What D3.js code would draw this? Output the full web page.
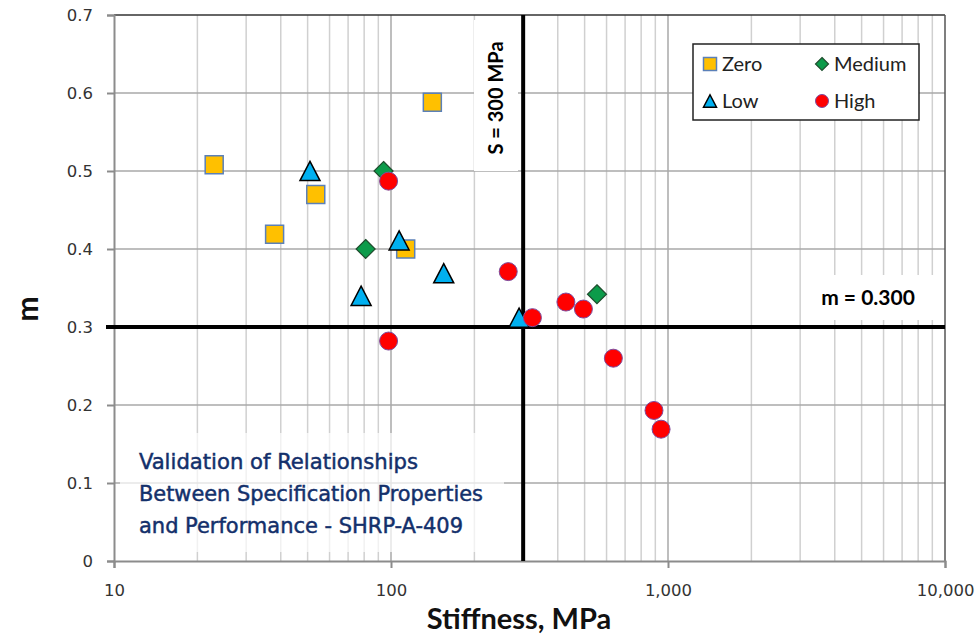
<!DOCTYPE html>
<html>
<head>
<meta charset="utf-8">
<script src="https://cdn.jsdelivr.net/npm/d3@7"></script>
<style>
  html, body { margin: 0; padding: 0; background: #fff; }
  svg { display: block; }
</style>
</head>
<body>
<svg id="chart" width="979" height="636"></svg>
<script>
// Creep stiffness vs. m-value, grouped by binder aging / distress level
const stiffnessTicks = [10, 100, 1000, 10000];
const stiffnessTickLabels = ["10", "100", "1,000", "10,000"];
const mTicks = [0, 0.1, 0.2, 0.3, 0.4, 0.5, 0.6, 0.7];
const mTickLabels = ["0", "0.1", "0.2", "0.3", "0.4", "0.5", "0.6", "0.7"];

const zeroS = [23, 38, 53.5, 113, 141];
const zeroM = [0.508, 0.419, 0.470, 0.400, 0.588];
const mediumS = [81, 94, 554];
const mediumM = [0.400, 0.500, 0.342];
const lowS = [51, 78, 107, 155, 290];
const lowM = [0.500, 0.340, 0.411, 0.369, 0.312];
const highS = [98, 98, 265, 324, 428, 495, 635, 890, 944];
const highM = [0.487, 0.282, 0.371, 0.312, 0.332, 0.323, 0.260, 0.193, 0.169];

// Specification limits
const specS = 300;
const specM = 0.300;

const noteLines = ["Validation of Relationships", "Between Specification Properties", "and Performance - SHRP-A-409"];

const svg = d3.select("#chart");
const plotLeft = 114, plotRight = 945, plotTop = 15, plotBottom = 561;
const sansFont = "Lato, 'Open Sans', sans-serif";

const x = d3.scaleLog().domain([10, 10000]).range([plotLeft, plotRight]);
const y = d3.scaleLinear().domain([0, 0.7]).range([plotBottom, plotTop]);

// ---- gridlines ----
const minorVals = [];
for (let dec = 10; dec < 10000; dec *= 10) {
  for (let k = 2; k <= 9; k++) minorVals.push(dec * k);
}
const grid = svg.append("g");
grid.selectAll("line.minor").data(minorVals).join("line")
  .attr("x1", d => x(d)).attr("x2", d => x(d))
  .attr("y1", plotTop).attr("y2", plotBottom)
  .attr("stroke", "#d0d0d0").attr("stroke-width", 1.5);
grid.selectAll("line.major").data(stiffnessTicks.slice(1, 3)).join("line")
  .attr("x1", d => x(d)).attr("x2", d => x(d))
  .attr("y1", plotTop).attr("y2", plotBottom)
  .attr("stroke", "#a8a8a8").attr("stroke-width", 1.5);
grid.selectAll("line.h").data(mTicks.slice(1, 7)).join("line")
  .attr("x1", plotLeft).attr("x2", plotRight)
  .attr("y1", d => y(d)).attr("y2", d => y(d))
  .attr("stroke", "#a8a8a8").attr("stroke-width", 1.5);

// ---- plot frame ----
svg.append("line").attr("x1", plotLeft).attr("x2", plotRight).attr("y1", plotTop).attr("y2", plotTop)
  .attr("stroke", "#333").attr("stroke-width", 1.5);
svg.append("line").attr("x1", plotRight).attr("x2", plotRight).attr("y1", plotTop).attr("y2", plotBottom)
  .attr("stroke", "#555").attr("stroke-width", 1.5);

// ---- axes ----
const xAxis = d3.axisBottom(x).tickValues(stiffnessTicks)
  .tickFormat((d, i) => stiffnessTickLabels[i]).tickSize(7).tickPadding(16);
const gx = svg.append("g").attr("transform", `translate(0,${plotBottom})`).call(xAxis);
const yAxis = d3.axisLeft(y).tickValues(mTicks)
  .tickFormat((d, i) => mTickLabels[i]).tickSize(7).tickPadding(14);
const gy = svg.append("g").attr("transform", `translate(${plotLeft},0)`).call(yAxis);
[gx, gy].forEach(g => {
  g.select(".domain").attr("stroke", "#8c8c8c").attr("stroke-width", 2);
  g.selectAll(".tick line").attr("stroke", "#8c8c8c").attr("stroke-width", 2);
  g.selectAll(".tick text")
    .attr("fill", "#333")
    .style("font-family", "'DejaVu Sans', Verdana, sans-serif")
    .style("font-size", "16.5px");
});

// ---- annotation backgrounds ----
svg.append("rect").attr("x", 474).attr("y", 20).attr("width", 44).attr("height", 151).attr("fill", "#fff");
svg.append("rect").attr("x", 818).attr("y", 275).attr("width", 126).attr("height", 45).attr("fill", "#fff");
svg.append("rect").attr("x", 120).attr("y", 433).attr("width", 384).attr("height", 119)
  .attr("fill", "#fff").attr("fill-opacity", 0.7);

// ---- specification limit lines ----
svg.append("line").attr("x1", plotLeft - 8).attr("x2", plotRight)
  .attr("y1", y(specM)).attr("y2", y(specM))
  .attr("stroke", "#000").attr("stroke-width", 4);
svg.append("line").attr("x1", x(specS)).attr("x2", x(specS))
  .attr("y1", plotTop).attr("y2", plotBottom)
  .attr("stroke", "#000").attr("stroke-width", 4);

svg.append("text")
  .attr("transform", `translate(${x(specS) - 28},${98}) rotate(-90)`)
  .attr("text-anchor", "middle").attr("dominant-baseline", "central")
  .style("font-family", sansFont).style("font-weight", "bold")
  .style("font-size", "20px").attr("fill", "#000")
  .text("S = 300 MPa");
svg.append("text")
  .attr("x", 868).attr("y", y(specM) - 22)
  .attr("text-anchor", "middle")
  .style("font-family", sansFont).style("font-weight", "bold")
  .style("font-size", "21px").attr("fill", "#000")
  .text("m = 0.300");

// ---- source note ----
const noteWidths = [279, 344, 324];
const note = svg.append("text")
  .style("font-family", "'Liberation Sans Narrow', 'DejaVu Sans Condensed', 'Arial Narrow', sans-serif")
  .style("font-stretch", "condensed")
  .style("font-size", "22px")
  .attr("fill", "#13306b").attr("stroke", "#13306b").attr("stroke-width", 0.45);
noteLines.forEach((t, i) => note.append("tspan")
  .attr("x", 139).attr("y", 469 + i * 32)
  .attr("textLength", noteWidths[i]).attr("lengthAdjust", "spacingAndGlyphs")
  .text(t));

// ---- markers ----
const shapes = {
  square: s => `M${-s/2},${-s/2}h${s}v${s}h${-s}Z`,
  diamond: s => `M0,${-s/2}L${s/2},0L0,${s/2}L${-s/2},0Z`,
  triangle: s => `M0,${-s*0.48}L${s/2},${s*0.48}L${-s/2},${s*0.48}Z`,
  circle: s => `M${s/2},0A${s/2},${s/2},0,1,1,${-s/2},0A${s/2},${s/2},0,1,1,${s/2},0Z`
};
const series = [
  { name: "Zero", s: zeroS, m: zeroM, shape: "square", size: 18, fill: "#FFC000", stroke: "#5b80b8", sw: 1.5 },
  { name: "Medium", s: mediumS, m: mediumM, shape: "diamond", size: 19, fill: "#0c9b4a", stroke: "#1f4d2e", sw: 1.2 },
  { name: "Low", s: lowS, m: lowM, shape: "triangle", size: 20, fill: "#00B0F0", stroke: "#000", sw: 1.5 },
  { name: "High", s: highS, m: highM, shape: "circle", size: 18, fill: "#FF0000", stroke: "#7d4b9e", sw: 1 }
];

series.forEach(se => {
  svg.append("g").selectAll("path")
    .data(se.s.map((v, i) => ({ s: v, m: se.m[i] })))
    .join("path")
    .attr("transform", d => `translate(${x(d.s)},${y(d.m)})`)
    .attr("d", shapes[se.shape](se.size))
    .attr("fill", se.fill).attr("stroke", se.stroke).attr("stroke-width", se.sw);
});

// ---- legend ----
const lg = svg.append("g");
lg.append("rect").attr("x", 693).attr("y", 44).attr("width", 226).attr("height", 76)
  .attr("fill", "#fff").attr("stroke", "#222").attr("stroke-width", 1.5);
const legendPos = [[710, 64], [822, 64], [710, 101], [822, 101]];
series.forEach((se, i) => {
  const [lx, ly] = legendPos[i];
  lg.append("path").attr("transform", `translate(${lx},${ly})`)
    .attr("d", shapes[se.shape](13))
    .attr("fill", se.fill).attr("stroke", se.stroke).attr("stroke-width", se.sw);
  lg.append("text").attr("x", lx + 12).attr("y", ly + 7)
    .style("font-family", sansFont).style("font-size", "20px")
    .attr("fill", "#222").text(se.name);
});

// ---- axis titles ----
svg.append("text")
  .attr("x", 519).attr("y", 629).attr("text-anchor", "middle")
  .style("font-family", sansFont).style("font-weight", "bold")
  .style("font-size", "29px").attr("fill", "#111")
  .text("Stiffness, MPa");
svg.append("text")
  .attr("transform", "translate(26,309) rotate(-90)")
  .attr("text-anchor", "middle").attr("dominant-baseline", "central")
  .style("font-family", sansFont).style("font-weight", "bold")
  .style("font-size", "30px").attr("fill", "#111")
  .text("m");
</script>
</body>
</html>
